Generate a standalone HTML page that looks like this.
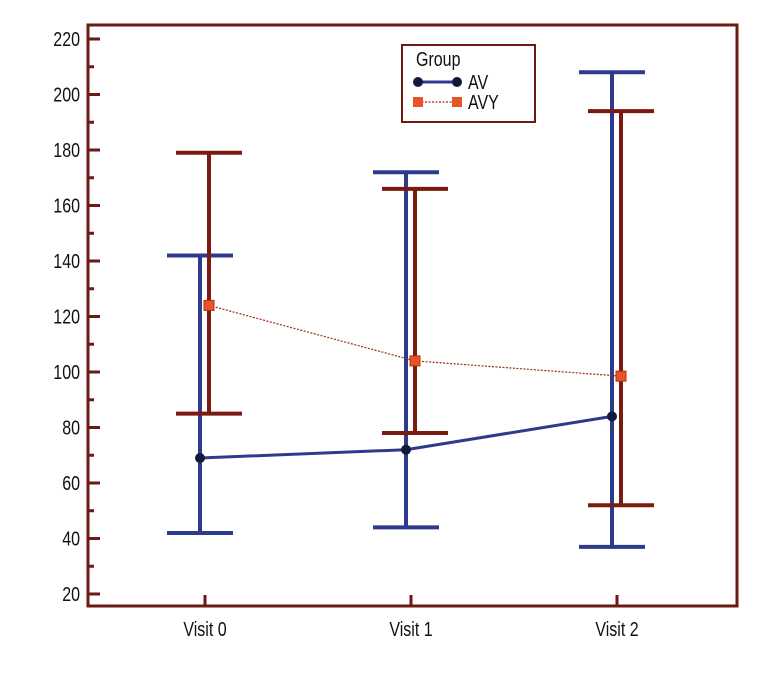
<!DOCTYPE html>
<html><head><meta charset="utf-8"><style>
body{margin:0;background:#fff;width:768px;height:672px;overflow:hidden}
text{font-family:"Liberation Sans Narrow","Liberation Sans",sans-serif;fill:#111}
</style></head><body>
<svg id="chart" width="768" height="672" xmlns="http://www.w3.org/2000/svg"></svg>
<script>
const categories=["Visit 0","Visit 1","Visit 2"];
const avMean=[69,72,84];
const avLow=[42,44,37];
const avHigh=[142,172,208];
const avyMean=[124,104,98.5];
const avyLow=[85,78,52];
const avyHigh=[179,166,194];
const yTicks=[20,40,60,80,100,120,140,160,180,200,220];

const svg=document.getElementById('chart');
const NS="http://www.w3.org/2000/svg";
const L=88,R=737,T=25,B=606;
const y=v=>594-(v-20)*55.5/20;
const x=i=>205+i*206;
const axisC="#6b1a14",blue="#2e3a8c",red="#7a1a10",orange="#e8542a";
function el(tag,attrs,parent){const e=document.createElementNS(NS,tag);for(const k in attrs)e.setAttribute(k,attrs[k]);(parent||svg).appendChild(e);return e;}
function narrow(t,ax){t.setAttribute('transform','translate('+ax+',0) scale(0.8,1) translate('+(-ax)+',0)');}

const frame=el('rect',{x:L,y:T,width:R-L,height:B-T,fill:'none',stroke:axisC,'stroke-width':3});



yTicks.forEach((v,i)=>{
  const t=el('line',{x1:L,x2:L+12,y1:y(v),y2:y(v),stroke:axisC,'stroke-width':3});
  
  
  if(i<yTicks.length-1){const m=el('line',{x1:L,x2:L+6,y1:y(v+10),y2:y(v+10),stroke:axisC,'stroke-width':3});
    
    }
  const lb=el('text',{x:L-8,y:y(v)+7,'text-anchor':'end','font-size':20});
  lb.textContent=v;
  narrow(lb,L-8);
  
  
});
categories.forEach((c,i)=>{
  const t=el('line',{x1:x(i),x2:x(i),y1:B,y2:B-11,stroke:axisC,'stroke-width':3});
  
  
  const lb=el('text',{x:x(i),y:B+30,'text-anchor':'middle','font-size':20});
  lb.textContent=c;
  narrow(lb,x(i));
  
  
});

function errbar(cx,lo,hi,col,name){
  const g=el('g',{stroke:col,'stroke-width':4});
  
  
  el('line',{x1:cx,x2:cx,y1:y(lo),y2:y(hi)},g);
  el('line',{x1:cx-33,x2:cx+33,y1:y(lo),y2:y(lo)},g);
  el('line',{x1:cx-33,x2:cx+33,y1:y(hi),y2:y(hi)},g);
}
categories.forEach((c,i)=>{errbar(x(i)-5,avLow[i],avHigh[i],blue,'av-error-bar');});
categories.forEach((c,i)=>{errbar(x(i)+4,avyLow[i],avyHigh[i],red,'avy-error-bar');});

const avLine=el('polyline',{points:avMean.map((v,i)=>(x(i)-5)+','+y(v)).join(' '),fill:'none',stroke:blue,'stroke-width':3});


const avyLine=el('polyline',{points:avyMean.map((v,i)=>(x(i)+4)+','+y(v)).join(' '),fill:'none',stroke:'#a02818','stroke-width':1.2,'stroke-dasharray':'2,1.5'});


avMean.forEach((v,i)=>{const p=el('circle',{cx:x(i)-5,cy:y(v),r:5,fill:'#14183a'});
  
  });
avyMean.forEach((v,i)=>{const p=el('rect',{x:x(i)+4-5,y:y(v)-5,width:10,height:10,fill:orange,stroke:'#b03010','stroke-width':1});
  
  });

const lg=el('g',{});


el('rect',{x:402,y:45,width:133,height:77,fill:'#fff',stroke:axisC,'stroke-width':2},lg);
const lt=el('text',{x:416,y:66,'font-size':20},lg);lt.textContent='Group';narrow(lt,416);
el('line',{x1:418,x2:457,y1:82,y2:82,stroke:blue,'stroke-width':3},lg);
el('circle',{cx:418,cy:82,r:5,fill:'#14183a'},lg);
el('circle',{cx:457,cy:82,r:5,fill:'#14183a'},lg);
const l1=el('text',{x:468,y:89,'font-size':20},lg);l1.textContent='AV';narrow(l1,468);
el('line',{x1:418,x2:457,y1:102,y2:102,stroke:'#a02818','stroke-width':1.2,'stroke-dasharray':'2,1.5'},lg);
el('rect',{x:413,y:97,width:10,height:10,fill:orange},lg);
el('rect',{x:452,y:97,width:10,height:10,fill:orange},lg);
const l2=el('text',{x:468,y:109,'font-size':20},lg);l2.textContent='AVY';narrow(l2,468);
</script>
</body></html>
